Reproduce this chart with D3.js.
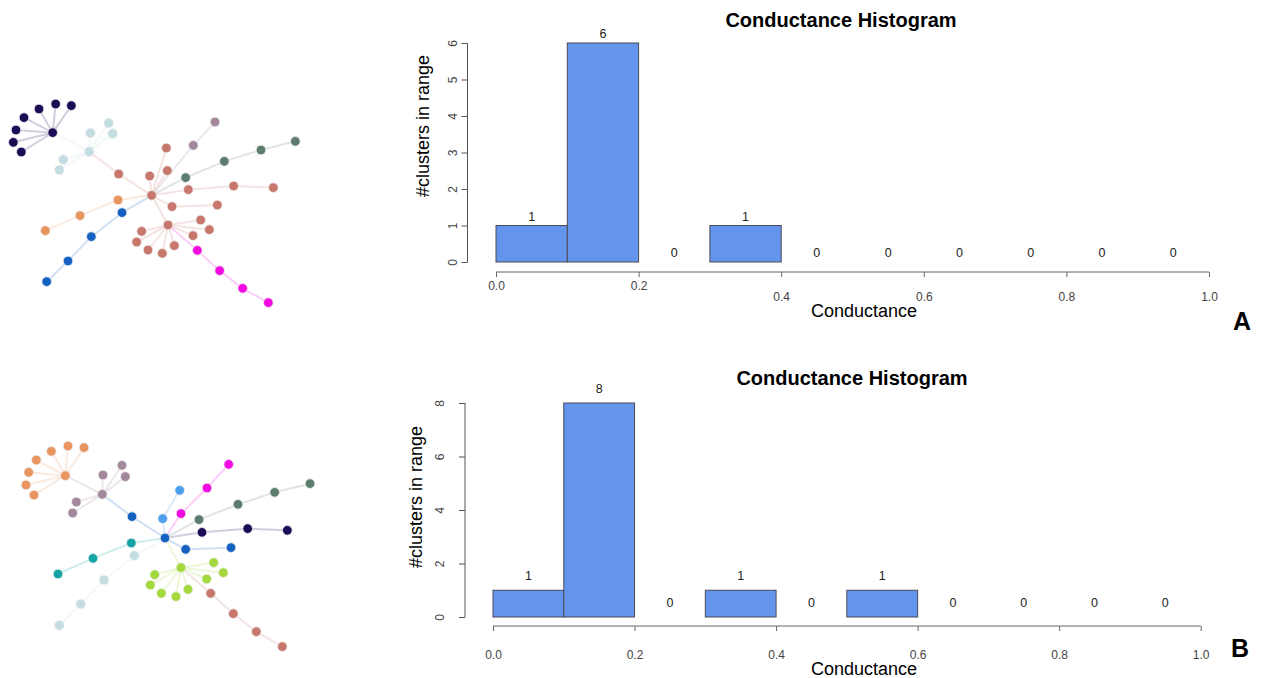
<!DOCTYPE html>
<html>
<head>
<meta charset="utf-8">
<script src="https://cdn.jsdelivr.net/npm/d3@7"></script>
<style>
  body { margin: 0; background: #fff; }
  text { font-family: "Liberation Sans", Arial, Helvetica, sans-serif; }
</style>
</head>
<body>
<script>
// Cluster colours (shared by both graphs)
var clusterColors = ["#1c0b55", "#c4dde3", "#c7776c", "#a3879a", "#5c7d6d",
    "#e8955f", "#1461c2", "#f20ae3", "#4b9ded", "#16a3a6", "#a3d93c"];

// Graph A: [x, y, cluster] in layout units
var nodesA = [
    [158,128,0],[117,57,0],[167,42,0],[214,47,0],[72,83,0],[48,120,0],[40,157,0],[64,186,0],
    [268,185,1],[271,129,1],[326,99,1],[338,131,1],[190,209,1],[178,240,1],
    [356,252,2],[455,316,2],[449,258,2],[499,174,2],[502,242,2],[565,299,2],[701,288,2],[820,293,2],
    [516,350,2],[652,345,2],[504,405,2],[602,390,2],[628,419,2],[579,437,2],[523,467,2],[487,490,2],
    [444,480,2],[410,456,2],[425,424,2],
    [580,166,3],[645,96,3],
    [557,263,4],[673,214,4],[783,180,4],[886,154,4],
    [354,330,5],[240,377,5],[136,422,5],
    [366,368,6],[274,440,6],[204,513,6],[140,575,6],
    [592,481,7],[659,542,7],[728,595,7],[805,638,7]
];
var linksA = [
    [0,1],[0,2],[0,3],[0,4],[0,5],[0,6],[0,7],[0,8],
    [8,9],[8,10],[8,11],[8,12],[8,13],[8,14],[14,15],
    [15,16],[15,17],[15,18],[15,19],[19,20],[20,21],[15,22],[22,23],[15,24],
    [24,25],[24,26],[24,27],[24,28],[24,29],[24,30],[24,31],[24,32],
    [15,33],[33,34],[15,35],[35,36],[36,37],[37,38],
    [15,39],[39,40],[40,41],[15,42],[42,43],[43,44],[44,45],
    [24,46],[46,47],[47,48],[48,49]
];

// Graph B
var nodesB = [
    [196,137,5],[109,90,5],[154,64,5],[204,48,5],[252,53,5],[86,127,5],[78,165,5],[102,195,5],
    [307,193,3],[309,135,3],[366,106,3],[376,140,3],[229,216,3],[218,249,3],
    [396,260,6],[495,324,6],[557,358,6],[693,353,6],
    [488,266,8],[539,181,8],
    [543,251,7],[621,174,7],[686,103,7],
    [597,269,4],[714,223,4],[824,187,4],[930,161,4],
    [606,307,0],[743,296,0],[862,301,0],
    [394,339,9],[279,385,9],[174,432,9],
    [403,377,1],[312,450,1],[242,522,1],[178,586,1],
    [543,413,10],[641,398,10],[670,428,10],[620,447,10],[564,478,10],[528,500,10],[484,490,10],
    [451,465,10],[464,434,10],
    [632,490,2],[700,551,2],[769,605,2],[847,650,2]
];
var linksB = [
    [0,1],[0,2],[0,3],[0,4],[0,5],[0,6],[0,7],[0,8],
    [8,9],[8,10],[8,11],[8,12],[8,13],[8,14],[14,15],
    [15,18],[18,19],[15,20],[20,21],[21,22],
    [15,23],[23,24],[24,25],[25,26],[15,27],[27,28],[28,29],
    [15,16],[16,17],[15,30],[30,31],[31,32],[15,33],[33,34],[34,35],[35,36],
    [15,37],[37,38],[37,39],[37,40],[37,41],[37,42],[37,43],[37,44],[37,45],
    [37,46],[46,47],[47,48],[48,49]
];

// Histogram data
var binStarts = [0.0, 0.1, 0.2, 0.3, 0.4, 0.5, 0.6, 0.7, 0.8, 0.9];
var countsA = [1, 6, 0, 1, 0, 0, 0, 0, 0, 0];
var countsB = [1, 8, 0, 1, 0, 1, 0, 0, 0, 0];
var xTicks = [0.0, 0.2, 0.4, 0.6, 0.8, 1.0];
var yTicksA = [0, 1, 2, 3, 4, 5, 6];
var yTicksB = [0, 2, 4, 6, 8];

var svg = d3.select("body").append("svg")
    .attr("width", 1263)
    .attr("height", 678);

svg.append("rect").attr("width", 1263).attr("height", 678).attr("fill", "#fff");

function drawNetwork(nodes, links, x, y) {
    var g = svg.append("g");
    g.selectAll("line")
        .data(links)
        .enter()
        .append("line")
        .attr("x1", function (d) { return x(nodes[d[0]][0]); })
        .attr("y1", function (d) { return y(nodes[d[0]][1]); })
        .attr("x2", function (d) { return x(nodes[d[1]][0]); })
        .attr("y2", function (d) { return y(nodes[d[1]][1]); })
        .style("stroke", function (d) { return clusterColors[nodes[d[1]][2]]; })
        .style("stroke-opacity", 0.2)
        .style("stroke-width", 2);
    g.selectAll("circle")
        .data(nodes)
        .enter()
        .append("circle")
        .attr("cx", function (d) { return x(d[0]); })
        .attr("cy", function (d) { return y(d[1]); })
        .attr("r", 4.8)
        .style("fill", function (d) { return clusterColors[d[2]]; })
        .style("stroke", "#eee")
        .style("stroke-width", 0.8);
}

drawNetwork(nodesA, linksA,
    d3.scaleLinear().domain([0, 930]).range([0, 310]),
    d3.scaleLinear().domain([0, 660]).range([90, 310]));
drawNetwork(nodesB, linksB,
    d3.scaleLinear().domain([0, 990]).range([0, 330]),
    d3.scaleLinear().domain([0, 690]).range([430, 660]));

function drawHist(counts, yTicks, o) {
    var x = d3.scaleLinear().domain([0, 1]).range([o.x0, o.x1]);
    var y = d3.scaleLinear().domain([0, yTicks[yTicks.length - 1]]).range([o.y0, o.y1]);
    var g = svg.append("g");

    // Bars (zero counts collapse into the baseline)
    g.selectAll("rect")
        .data(binStarts)
        .enter()
        .append("rect")
        .attr("x", function (d) { return x(d); })
        .attr("width", function (d) { return x(d + 0.1) - x(d); })
        .attr("y", function (d, i) { return y(counts[i]); })
        .attr("height", function (d, i) { return y(0) - y(counts[i]); })
        .style("fill", function (d, i) { return counts[i] > 0 ? "#6495ed" : "none"; })
        .style("stroke", "#4a4a55")
        .style("stroke-width", 1);

    // Count labels
    g.selectAll(".cnt")
        .data(binStarts)
        .enter()
        .append("text")
        .attr("class", "cnt")
        .attr("x", function (d) { return x(d + 0.05); })
        .attr("y", function (d, i) { return y(counts[i]) - o.labOff; })
        .attr("text-anchor", "middle")
        .style("font-size", "12.5px")
        .style("fill", "#222")
        .text(function (d, i) { return counts[i]; });

    // X axis
    var xa = svg.append("g")
        .attr("transform", "translate(0," + o.xAxisY + ")")
        .call(d3.axisBottom(x).tickValues(xTicks).tickSize(5).tickFormat(d3.format(".1f")));
    xa.select(".domain").attr("d", "M" + o.x0 + ",0H" + o.x1).style("stroke", "#666");
    xa.selectAll(".tick line").style("stroke", "#666");
    xa.selectAll(".tick text")
        .attr("y", function (d) { return o.stagger && d < 0.3 ? o.xLabY - 11 : o.xLabY; })
        .attr("dy", 0)
        .style("font-size", "12px")
        .style("fill", "#444");

    // Y axis with labels parallel to the axis
    var ya = svg.append("g")
        .attr("transform", "translate(" + o.yAxisX + ",0)")
        .call(d3.axisLeft(y).tickValues(yTicks).tickSize(6).tickFormat(d3.format("d")));
    ya.select(".domain").attr("d", "M0," + o.y0 + "V" + o.y1).style("stroke", "#555");
    ya.selectAll(".tick line").style("stroke", "#555");
    ya.selectAll(".tick text")
        .attr("x", 0)
        .attr("dy", 0)
        .attr("transform", "translate(" + (-o.yLabOff) + ",0) rotate(-90)")
        .attr("text-anchor", "middle")
        .style("font-size", "12px")
        .style("fill", "#444");

    // Titles
    svg.append("text")
        .attr("x", o.titleX)
        .attr("y", o.titleY)
        .attr("text-anchor", "middle")
        .style("font-size", "20px")
        .style("font-weight", "bold")
        .text("Conductance Histogram");

    svg.append("text")
        .attr("x", 864)
        .attr("y", o.xTitleY)
        .attr("text-anchor", "middle")
        .style("font-size", "18px")
        .text("Conductance");

    svg.append("text")
        .attr("transform", "translate(" + o.yTitleX + "," + o.yTitleY + ") rotate(-90)")
        .attr("dy", "0.35em")
        .attr("text-anchor", "middle")
        .style("font-size", "18px")
        .text("#clusters in range");

    svg.append("text")
        .attr("x", o.letterX)
        .attr("y", o.letterY)
        .attr("text-anchor", "middle")
        .style("font-size", "25px")
        .style("font-weight", "bold")
        .text(o.letter);
}

drawHist(countsA, yTicksA, {
    x0: 496, x1: 1209, y0: 262, y1: 43, labOff: 5,
    xAxisY: 272, xLabY: 29, stagger: true,
    yAxisX: 467.5, yLabOff: 10.5,
    titleX: 841, titleY: 27, xTitleY: 317,
    yTitleX: 423, yTitleY: 126,
    letter: "A", letterX: 1242, letterY: 330
});

drawHist(countsB, yTicksB, {
    x0: 493, x1: 1200.7, y0: 617, y1: 403, labOff: 10,
    xAxisY: 626, xLabY: 33, stagger: false,
    yAxisX: 465, yLabOff: 20.7,
    titleX: 852, titleY: 385, xTitleY: 675,
    yTitleX: 416, yTitleY: 497,
    letter: "B", letterX: 1240, letterY: 657
});
</script>
</body>
</html>
